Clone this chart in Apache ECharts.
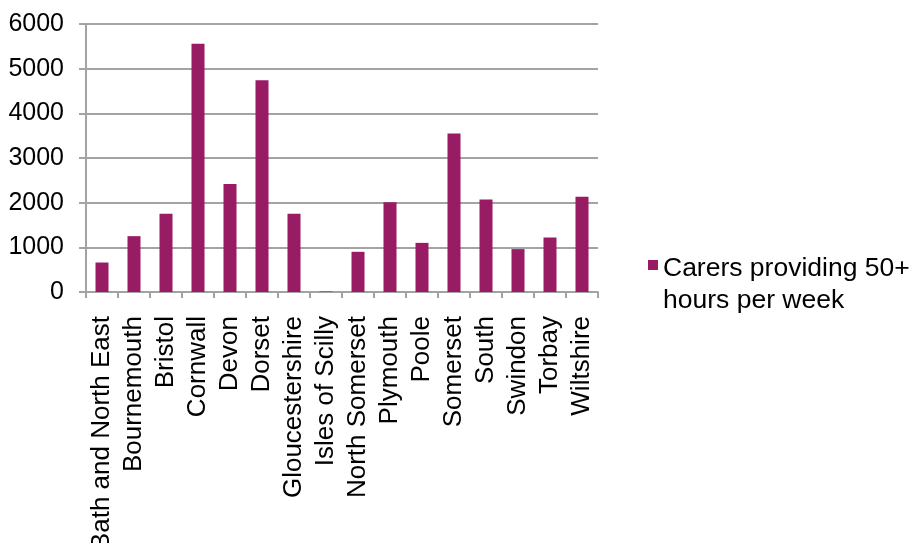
<!DOCTYPE html>
<html>
<head>
<meta charset="utf-8">
<script src="https://cdn.jsdelivr.net/npm/echarts@6/dist/echarts.min.js"></script>
<style>
  html, body { margin: 0; padding: 0; background: #fff; }
  #chart { width: 912px; height: 543px; }
</style>
</head>
<body>
<div id="chart"></div>
<script>
// Local authority areas in the South West
const areas = [
  'Bath and North East', 'Bournemouth', 'Bristol', 'Cornwall', 'Devon', 'Dorset',
  'Gloucestershire', 'Isles of Scilly', 'North Somerset', 'Plymouth', 'Poole',
  'Somerset', 'South', 'Swindon', 'Torbay', 'Wiltshire'
];
// Number of carers giving 50 or more hours of care a week
const carers50Plus = [
  660, 1250, 1750, 5560, 2420, 4740,
  1750, 10, 900, 2010, 1100,
  3550, 2070, 960, 1220, 2130
];
const seriesName = 'Carers providing 50+\nhours per week';
const yTicks = { min: 0, max: 6000, step: 1000 };

const FONT = '"Liberation Sans", Helvetica, Arial, sans-serif';
const GRAY = '#a3a3a3';

// Legend swatch sits beside the first line of the two-line label:
// the square is drawn at the top of a taller icon box.
const swatchIcon = 'path://M0,0H10V10H0Z M0,50H0.01V50.01H0Z';

const chart = echarts.init(document.getElementById('chart'), null, { renderer: 'canvas' });
chart.setOption({
  animation: false,
  backgroundColor: '#fff',
  grid: {
    left: 86, right: 314, top: 24, bottom: 251,
    containLabel: false, outerBoundsMode: 'none'
  },
  legend: {
    orient: 'vertical',
    left: 648,
    top: 253,
    padding: 0,
    itemWidth: 10,
    itemHeight: 50,
    data: [{ name: seriesName, icon: swatchIcon }],
    textStyle: {
      fontFamily: FONT, fontSize: 26.5, color: '#000', lineHeight: 32
    }
  },
  xAxis: {
    type: 'category',
    data: areas,
    boundaryGap: true,
    axisLine: { show: true, lineStyle: { color: GRAY, width: 2 } },
    axisTick: { show: true, length: 6, lineStyle: { color: GRAY, width: 2 } },
    axisLabel: {
      rotate: 90, interval: 0, margin: 24,
      fontFamily: FONT, fontSize: 26, color: '#000'
    },
    splitLine: { show: false }
  },
  yAxis: {
    type: 'value',
    min: yTicks.min, max: yTicks.max, interval: yTicks.step,
    axisLine: { show: true, lineStyle: { color: GRAY, width: 2 } },
    axisTick: { show: true, length: 7, lineStyle: { color: GRAY, width: 2 } },
    axisLabel: {
      margin: 22, fontFamily: FONT, fontSize: 25, color: '#000',
      formatter: (v) => String(v)
    },
    splitLine: { show: true, lineStyle: { color: GRAY, width: 2 } }
  },
  series: [{
    name: seriesName,
    type: 'bar',
    data: carers50Plus,
    barWidth: 13,
    itemStyle: { color: '#981b63' }
  }]
});
</script>
</body>
</html>
